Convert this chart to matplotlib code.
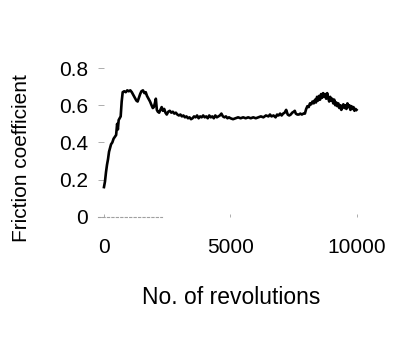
import matplotlib
matplotlib.use("Agg")
import matplotlib.pyplot as plt

plt.rcParams['font.family'] = ['Liberation Sans', 'DejaVu Sans']

# friction coefficient vs. number of revolutions
revs = [0, 40, 80, 120, 160, 200, 240, 280, 330, 380, 430, 480, 520, 550, 580, 620, 660,
        700, 740, 800, 860, 920, 980, 1040, 1100, 1160, 1220, 1280, 1330, 1380, 1430, 1480,
        1540, 1600, 1650, 1700, 1760, 1820, 1880, 1930, 1970, 2010, 2050, 2090, 2130, 2180,
        2230, 2280, 2330, 2380, 2430, 2480, 2540, 2600, 2660, 2720, 2780, 2840, 2900, 2960,
        3020, 3080, 3140, 3200, 3260, 3320, 3380, 3440, 3500, 3560, 3620, 3680, 3740, 3800,
        3860, 3920, 3980, 4040, 4100, 4160, 4220, 4280, 4340, 4400, 4460, 4520, 4580, 4640,
        4700, 4760, 4820, 4880, 4940, 5000, 5100, 5200, 5300, 5400, 5500, 5600, 5700, 5800,
        5900, 6000, 6100, 6200, 6300, 6400, 6500, 6560, 6620, 6700, 6780, 6840, 6900, 6960,
        7020, 7080, 7140, 7200, 7260, 7320, 7380, 7440, 7500, 7540, 7580, 7640, 7700, 7760,
        7820, 7880, 7940, 7990, 8040, 8090, 8140, 8190, 8240, 8290, 8340, 8380, 8420, 8460,
        8500, 8540, 8580, 8620, 8660, 8700, 8740, 8780, 8820, 8860, 8900, 8940, 8980, 9020,
        9060, 9100, 9140, 9180, 9220, 9260, 9300, 9340, 9380, 9420, 9460, 9500, 9540, 9580,
        9620, 9660, 9700, 9740, 9780, 9820, 9860, 9900, 9940, 9980]
mu = [0.16, 0.19, 0.24, 0.28, 0.31, 0.35, 0.37, 0.39, 0.40, 0.42, 0.43, 0.44, 0.50, 0.47, 0.52, 0.53, 0.54,
      0.62, 0.67, 0.675, 0.67, 0.68, 0.675, 0.68, 0.67, 0.655, 0.64, 0.625, 0.62, 0.64, 0.66, 0.675,
      0.68, 0.665, 0.67, 0.65, 0.635, 0.62, 0.60, 0.585, 0.59, 0.61, 0.635, 0.575, 0.565, 0.56,
      0.575, 0.59, 0.57, 0.58, 0.56, 0.55, 0.565, 0.57, 0.56, 0.565, 0.555, 0.56, 0.55, 0.545,
      0.55, 0.54, 0.545, 0.535, 0.54, 0.53, 0.535, 0.525, 0.53, 0.54, 0.535, 0.545, 0.53, 0.54,
      0.535, 0.545, 0.535, 0.54, 0.53, 0.545, 0.535, 0.54, 0.53, 0.545, 0.535, 0.54, 0.545, 0.555,
      0.54, 0.535, 0.54, 0.53, 0.535, 0.53, 0.525, 0.53, 0.535, 0.53, 0.535, 0.53, 0.535, 0.53,
      0.535, 0.53, 0.535, 0.54, 0.535, 0.545, 0.54, 0.55, 0.54, 0.545, 0.535, 0.55, 0.545, 0.555,
      0.545, 0.555, 0.56, 0.575, 0.55, 0.545, 0.55, 0.56, 0.565, 0.57, 0.555, 0.55, 0.55, 0.555,
      0.55, 0.555, 0.555, 0.58, 0.595, 0.59, 0.61, 0.605, 0.62, 0.61, 0.63, 0.615, 0.645, 0.625,
      0.65, 0.63, 0.66, 0.64, 0.665, 0.645, 0.66, 0.635, 0.665, 0.64, 0.62, 0.645, 0.625, 0.635,
      0.61, 0.63, 0.60, 0.615, 0.595, 0.61, 0.585, 0.60, 0.575, 0.595, 0.605, 0.585, 0.60, 0.58,
      0.61, 0.59, 0.60, 0.575, 0.595, 0.58, 0.59, 0.57, 0.58, 0.575]
xticks = [0, 5000, 10000]
yticks = [0, 0.2, 0.4, 0.6, 0.8]
ytick_labels = ['0', '0.2', '0.4', '0.6', '0.8']

fig = plt.figure(figsize=(4.12, 3.47), dpi=100)
ax = fig.add_axes([0.237, 0.375, 0.648, 0.429])

ax.plot(revs, mu, color='black', lw=1.9, clip_on=False)

ax.set_xlim(-250, 10300)
ax.set_ylim(0, 0.8)
ax.set_xticks(xticks)
ax.set_yticks(yticks)
ax.set_yticklabels(ytick_labels)

# the scanned axes are mostly faded away
for s in ['top', 'right', 'left']:
    ax.spines[s].set_visible(False)
ax.spines['bottom'].set_bounds(-250, 2300)
ax.spines['bottom'].set_linestyle((0, (2, 2)))
ax.spines['bottom'].set_color('#a0a0a0')
ax.spines['bottom'].set_linewidth(0.8)

ax.tick_params(axis='y', direction='in', length=4, width=0.6, color='#a0a0a0',
               pad=7, labelsize=15)
ax.tick_params(axis='x', direction='in', length=2, width=0.6, color='#a0a0a0',
               pad=15, labelsize=15)

fig.text(0.051, 0.545, 'Friction coefficient', rotation=90, fontsize=15,
         ha='center', va='center')
fig.text(0.56, 0.144, 'No. of revolutions', fontsize=16.5, ha='center', va='center')

fig.savefig('out.png', dpi=100)
